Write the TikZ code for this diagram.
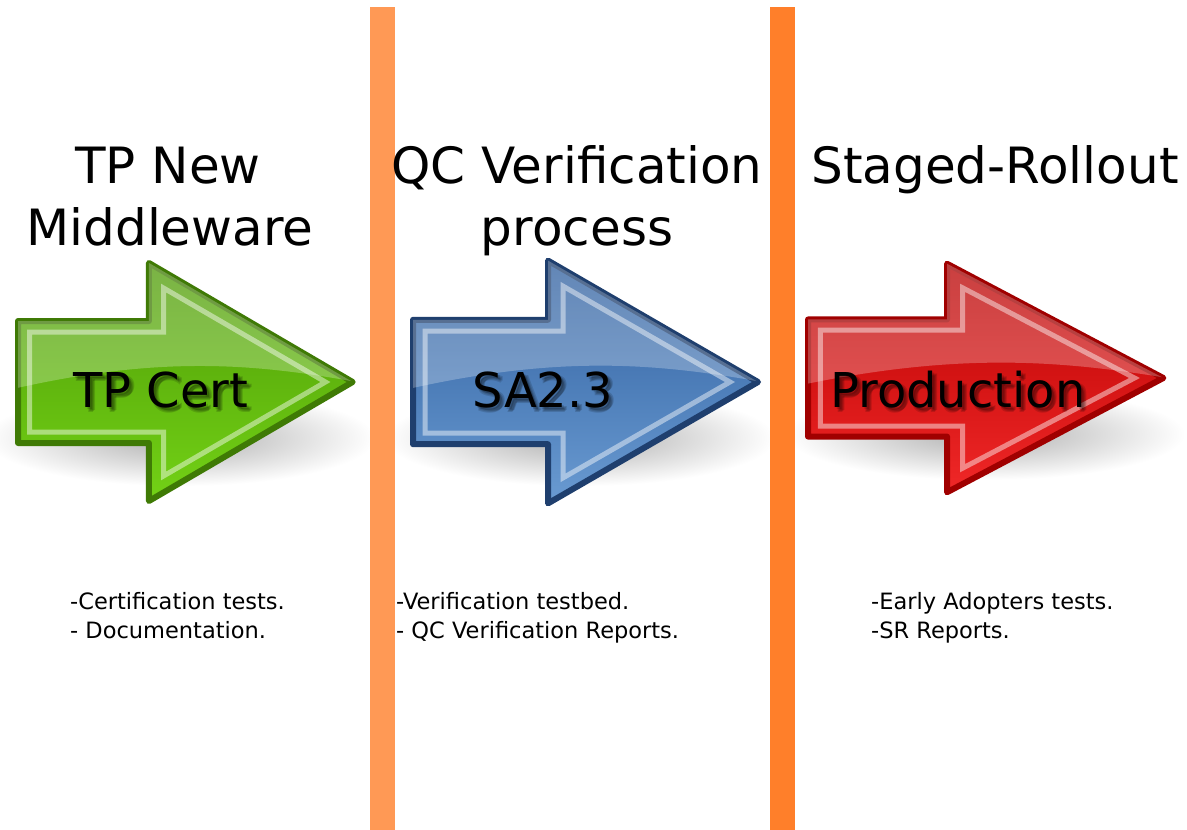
\documentclass[tikz,border=0pt]{standalone}
\usepackage{fontspec}
\setmainfont{DejaVu Sans}
\definecolor{barA}{HTML}{FF9955}
\definecolor{barB}{HTML}{FF7F2A}
\definecolor{gDark}{HTML}{3F7A05}
\definecolor{gTop}{HTML}{4E9A06}
\definecolor{gBot}{HTML}{73D216}
\definecolor{bDark}{HTML}{1F3F6E}
\definecolor{bTop}{HTML}{2E5E9E}
\definecolor{bBot}{HTML}{6A9BD2}
\definecolor{rDark}{HTML}{A00000}
\definecolor{rTop}{HTML}{B80000}
\definecolor{rBot}{HTML}{F02828}
\usetikzlibrary{calc}
\newcommand\arrowshape{(0,-61) -- (135,-61) -- (135,-119) -- (345,0) -- (135,119) -- (135,61) -- (0,61) -- cycle}
\newcommand\glossyarrow[6]{%
  \begin{scope}[shift={#1}, xscale=#2, yscale=#3]
    \path[draw=#4, line width=6pt, line join=round, top color=#5, bottom color=#6] \arrowshape;
    \begin{scope}
      \clip \arrowshape;
      \fill[white, opacity=0.25] (-10,-130) -- (360,-130) -- (360,2) .. controls (250,-18) and (150,-28) .. (-10,8) -- cycle;
    \end{scope}
    \draw[white, opacity=0.45, line width=5pt, line join=miter]
      (12,-50) -- (150,-50) -- (150,-94) -- (317,0) -- (150,94) -- (150,50) -- (12,50) -- cycle;
  \end{scope}}
\tikzset{
  heading/.style={font=\fontsize{50}{60}\selectfont, anchor=base, inner sep=0pt},
  armtext/.style={font=\fontsize{48}{58}\selectfont, anchor=base, inner sep=0pt},
  armshadow/.style={armtext, text=black, opacity=0.14},
  note/.style={font=\fontsize{22.5}{27}\selectfont, anchor=base west, inner sep=0pt},
}
\newcommand\shadowtext[3]{%
  \foreach \dx/\dy in {2/2,4/4,3/5,5/3}
    \node[armshadow] at ($(#1)+(\dx,\dy)$) {#3};
  \node[armtext] (#2) at (#1) {#3};}
\begin{document}
\begin{tikzpicture}[x=1pt, y=-1pt]
\useasboundingbox (0,0) rectangle (1187,830);
\fill[white] (0,0) rectangle (1187,830);
% shadows
\shade[inner color=black!32, outer color=white] (180,438) ellipse (195 and 48);
\shade[inner color=black!32, outer color=white] (580,438) ellipse (195 and 48);
\shade[inner color=black!32, outer color=white] (985,434) ellipse (200 and 46);
% bars
\fill[barA] (370,7) rectangle (395,830);
\fill[barB] (770,7) rectangle (795,830);
% arrows
\glossyarrow{(18,382)}{0.97}{1}{gDark}{gTop}{gBot}
\glossyarrow{(413,382)}{1}{1.02}{bDark}{bTop}{bBot}
\glossyarrow{(808,378)}{1.03}{0.96}{rDark}{rTop}{rBot}
% arrow texts
\coordinate (pA) at (161,407);
\coordinate (pB) at (543,407);
\coordinate (pC) at (958,407);
\shadowtext{pA}{tA}{TP Cert}
\shadowtext{pB}{tB}{SA2.3}
\shadowtext{pC}{tC}{Production}
% headings
\node[heading] (h1a) at (168,183) {TP New};
\node[heading] (h1b) at (170,245) {Middleware};
\node[heading] (h2a) at (577,183) {QC Verification};
\node[heading] (h2b) at (577,245) {process};
\node[heading] (h3a) at (995,183) {Staged-Rollout};
% notes
\node[note] (n1a) at (70,609) {-Certification tests.};
\node[note] (n1b) at (70,638) {- Documentation.};
\node[note] (n2a) at (396,609) {-Verification testbed.};
\node[note] (n2b) at (396,638) {- QC Verification Reports.};
\node[note] (n3a) at (871,609) {-Early Adopters tests.};
\node[note] (n3b) at (871,638) {-SR Reports.};
\end{tikzpicture}
\end{document}
